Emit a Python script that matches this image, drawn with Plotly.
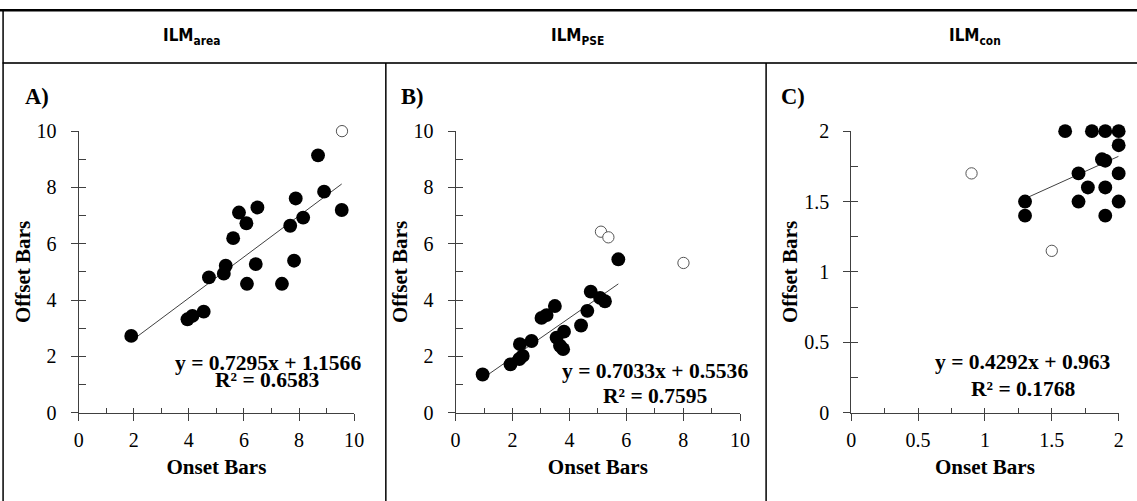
import plotly.graph_objects as go

W, H = 1137, 501

# ---------------- data ----------------
headers = ["ILM<sub>area</sub>", "ILM<sub>PSE</sub>", "ILM<sub>con</sub>"]
panel_labels = ["A)", "B)", "C)"]

a_x = [1.91, 3.95, 4.13, 4.54, 4.73, 5.27, 5.34, 5.61, 5.82, 6.09, 6.11, 6.43, 6.49,
       7.38, 7.68, 7.82, 7.88, 8.15, 8.69, 8.91, 9.55]
a_y = [2.73, 3.32, 3.44, 3.59, 4.81, 4.94, 5.22, 6.20, 7.11, 6.73, 4.58, 5.28, 7.29,
       4.58, 6.64, 5.40, 7.61, 6.93, 9.14, 7.85, 7.20]
a_out_x = [9.56]
a_out_y = [10.0]
a_slope, a_icpt, a_r2 = 0.7295, 1.1566, 0.6583

b_x = [0.95, 1.93, 2.24, 2.36, 2.26, 2.67, 3.02, 3.20, 3.49, 3.55, 3.81, 3.67, 3.78,
       4.41, 4.63, 4.75, 5.08, 5.25, 5.72]
b_y = [1.36, 1.72, 1.91, 2.02, 2.44, 2.55, 3.37, 3.47, 3.79, 2.67, 2.88, 2.38, 2.26,
       3.10, 3.62, 4.30, 4.08, 3.96, 5.45]
b_out_x = [5.11, 5.37, 8.01]
b_out_y = [6.43, 6.23, 5.32]
b_slope, b_icpt, b_r2 = 0.7033, 0.5536, 0.7595

c_x = [1.6, 1.8, 1.9, 2.0, 2.0, 1.875, 1.9, 1.7, 2.0, 1.77, 1.9, 1.3, 1.7, 2.0, 1.3, 1.9]
c_y = [2.0, 2.0, 2.0, 2.0, 1.9, 1.8, 1.79, 1.7, 1.7, 1.6, 1.6, 1.5, 1.5, 1.5, 1.4, 1.4]
c_out_x = [0.9, 1.5]
c_out_y = [1.7, 1.15]
c_slope, c_icpt, c_r2 = 0.4292, 0.963, 0.1768

ranges = [(0, 10), (0, 10), (0, 2)]
major = [2, 2, 0.5]
minor = [1, 1, 0.25]

panels = [
    (a_x, a_y, a_out_x, a_out_y, a_slope, a_icpt, a_r2),
    (b_x, b_y, b_out_x, b_out_y, b_slope, b_icpt, b_r2),
    (c_x, c_y, c_out_x, c_out_y, c_slope, c_icpt, c_r2),
]

# ---------------- layout geometry (target pixels in the photographed page) ----------------
plot_x = [(79, 354.3), (455.7, 740.0), (851.0, 1118.3)]
plot_y = (129.0, 412.3)
header_x = [192, 578, 975]
label_x = [37, 413, 793]
eq_x = [268, 655, 1023]
eq_y = [(362.7, 379.3), (370.7, 395), (361.7, 388)]

# the page is photographed with the default body margin and scaled to the window
SX = W / (W + 16)
SY = H / (H + 20)
OFF_X = 5.5
OFF_Y = 8.5
FS = 1 / ((SX + SY) / 2)


def px(d):
    return (d / SX - OFF_X) / W


def py(d):
    return 1 - (d / SY - OFF_Y) / H


def f(size):
    return size * FS


SERIF = "Liberation Serif"
NARROW = "Liberation Sans Narrow, DejaVu Sans Condensed, Roboto Condensed, Liberation Sans, sans-serif"
AX = "#404040"

fig = go.Figure()
annotations = []
shapes = []

for i, (xs, ys, oxs, oys, m, b, r2) in enumerate(panels):
    n = i + 1
    xa = "x" if n == 1 else f"x{n}"
    ya = "y" if n == 1 else f"y{n}"
    ox_id = n + 3
    xo = f"x{ox_id}"
    yo = f"y{ox_id}"

    fig.add_trace(go.Scatter(
        x=oxs, y=oys, mode="markers", xaxis=xa, yaxis=ya, cliponaxis=False,
        marker=dict(size=f(11), color="white", line=dict(color="#555555", width=1)),
        showlegend=False, hoverinfo="skip"))
    xmin, xmax = min(xs), max(xs)
    fig.add_trace(go.Scatter(
        x=[xmin, xmax], y=[m * xmin + b, m * xmax + b], mode="lines",
        xaxis=xa, yaxis=ya, line=dict(color="#404040", width=1),
        showlegend=False, hoverinfo="skip"))
    fig.add_trace(go.Scatter(
        x=xs, y=ys, mode="markers", xaxis=xa, yaxis=ya, cliponaxis=False,
        marker=dict(size=f(13.5), color="black", line=dict(width=0)),
        showlegend=False, hoverinfo="skip"))
    fig.add_trace(go.Scatter(x=[], y=[], xaxis=xo, yaxis=ya, showlegend=False))
    fig.add_trace(go.Scatter(x=[], y=[], xaxis=xa, yaxis=yo, showlegend=False))

    lo, hi = ranges[i]
    xd = [px(plot_x[i][0]), px(plot_x[i][1])]
    yd = [py(plot_y[1]), py(plot_y[0])]
    common = dict(range=[lo, hi], showgrid=False, zeroline=False, showline=True,
                  linecolor=AX, linewidth=1, ticks="outside", ticklen=7,
                  tickcolor=AX, tickwidth=1, tickfont=dict(family=SERIF, size=f(19.5), color="black"),
                  fixedrange=True)
    fig.layout[f"xaxis{n if n > 1 else ''}"] = dict(
        common, domain=xd, anchor=ya, dtick=major[i], tick0=0, ticklabelstandoff=2,
        title=dict(text="<b>Onset Bars</b>", font=dict(family=SERIF, size=f(20.5), color="black"),
                   standoff=9))
    fig.layout[f"yaxis{n if n > 1 else ''}"] = dict(
        common, domain=yd, anchor=xa, dtick=major[i], tick0=0, ticklabelstandoff=10,
        title=dict(text="<b>Offset Bars</b>", font=dict(family=SERIF, size=f(20.5), color="black"),
                   standoff=0))
    fig.layout[f"xaxis{ox_id}"] = dict(
        range=[lo, hi], domain=xd, overlaying=xa, anchor=ya, side="bottom",
        showgrid=False, zeroline=False, showline=False, showticklabels=False,
        ticks="inside", ticklen=5, tickcolor=AX, dtick=minor[i], tick0=0, fixedrange=True)
    fig.layout[f"yaxis{ox_id}"] = dict(
        range=[lo, hi], domain=yd, overlaying=ya, anchor=xa, side="left",
        showgrid=False, zeroline=False, showline=False, showticklabels=False,
        ticks="inside", ticklen=7, tickcolor=AX, dtick=minor[i], tick0=0, fixedrange=True)

    ann_common = dict(xref="paper", yref="paper", showarrow=False,
                      xanchor="center", yanchor="middle")
    annotations.append(dict(ann_common, text=f"<b>{headers[i]}</b>", x=px(header_x[i]), y=py(34),
                            font=dict(family=NARROW, size=f(16.5), color="black")))
    annotations.append(dict(ann_common, text=f"<b>{panel_labels[i]}</b>", x=px(label_x[i]), y=py(94),
                            font=dict(family=SERIF, size=f(22), color="black")))
    annotations.append(dict(ann_common, text=f"<b>y = {m}x + {b}</b>", x=px(eq_x[i]), y=py(eq_y[i][0]),
                            font=dict(family=SERIF, size=f(21), color="black")))
    annotations.append(dict(ann_common, text=f"<b>R² = {r2}</b>", x=px(eq_x[i]), y=py(eq_y[i][1]),
                            font=dict(family=SERIF, size=f(21), color="black")))

# table borders
shapes.append(dict(type="line", xref="paper", yref="paper", x0=px(0), x1=px(1137),
                   y0=py(7.5), y1=py(7.5), line=dict(color="black", width=2.5)))
shapes.append(dict(type="line", xref="paper", yref="paper", x0=px(3), x1=px(1137),
                   y0=py(60.5), y1=py(60.5), line=dict(color="#333333", width=2)))
shapes.append(dict(type="line", xref="paper", yref="paper", x0=px(3.5), x1=px(3.5),
                   y0=py(7), y1=py(501), line=dict(color="black", width=1.5)))
for dx in [386, 766]:
    shapes.append(dict(type="line", xref="paper", yref="paper", x0=px(dx), x1=px(dx),
                       y0=py(60.5), y1=py(501), line=dict(color="black", width=1.5)))

fig.update_layout(
    width=W, height=H, margin=dict(l=0, r=0, t=0, b=0),
    paper_bgcolor="white", plot_bgcolor="rgba(0,0,0,0)",
    annotations=annotations, shapes=shapes, showlegend=False,
)

fig.write_html("out.html", config={"displayModeBar": False})
